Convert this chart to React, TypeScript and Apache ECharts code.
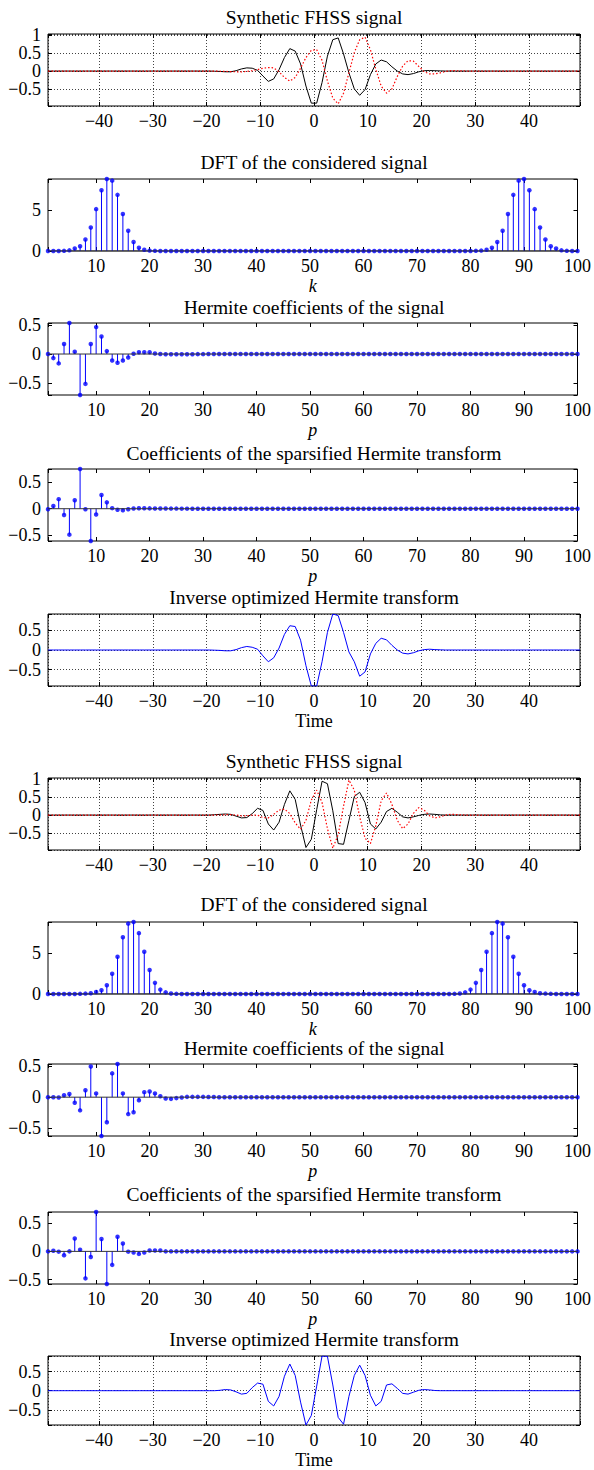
import React, { useEffect, useRef } from 'react';
import * as echarts from 'echarts';

// ---------- data ----------
const TIME: number[] = Array.from({ length: 100 }, (_, i) => i - 49.5);
const IDX: number[] = Array.from({ length: 100 }, (_, i) => i + 1);

const FIG1_REAL = [
  0, 0, 0, 0, 0, 0, 0, 0, 0, 0,
  0, 0, 0, 0, 0, 0, 0, 0, 0, 0,
  0, 0, 0, 0, 0, 0, 0, 0, 0, 0,
  0, -0.005, -0.01, -0.02, -0.02, 0.01, 0.06, 0.09, 0.08, 0.02,
  -0.14, -0.29, -0.22, 0.04, 0.38, 0.63, 0.56, 0.2, -0.42, -0.9,
  -0.9, -0.32, 0.42, 0.88, 0.93, 0.48, -0.05, -0.5, -0.68, -0.52,
  -0.1, 0.2, 0.31, 0.26, 0.12, 0, -0.08, -0.1, -0.07, -0.02,
  0.01, 0.015, 0.01, 0.005, 0, 0, 0, 0, 0, 0,
  0, 0, 0, 0, 0, 0, 0, 0, 0, 0,
  0, 0, 0, 0, 0, 0, 0, 0, 0, 0,
];
const FIG1_IMAG = [
  0, 0, 0, 0, 0, 0, 0, 0, 0, 0,
  0, 0, 0, 0, 0, 0, 0, 0, 0, 0,
  0, 0, 0, 0, 0, 0, 0, 0, 0, 0,
  0, 0, -0.005, -0.01, -0.015, -0.02, -0.02, -0.01, 0.01, 0.04,
  0.08, 0.1, 0.09, -0.02, -0.18, -0.28, -0.18, 0.08, 0.38, 0.58,
  0.6, 0.3, -0.28, -0.76, -0.92, -0.62, -0.05, 0.52, 0.88, 0.95,
  0.6, 0.05, -0.42, -0.62, -0.5, -0.15, 0.14, 0.29, 0.28, 0.13,
  -0.02, -0.08, -0.08, -0.05, -0.01, 0.01, 0.01, 0.005, 0, 0,
  0, 0, 0, 0, 0, 0, 0, 0, 0, 0,
  0, 0, 0, 0, 0, 0, 0, 0, 0, 0,
];
const FIG1_INV = [
  0, 0, 0, 0, 0, 0, 0, 0, 0, 0,
  0, 0, 0, 0, 0, 0, 0, 0, 0, 0,
  0, 0, 0, 0, 0, 0, 0, 0, 0, 0,
  0, -0.005, -0.01, -0.02, -0.02, 0.01, 0.06, 0.09, 0.07, 0.02,
  -0.15, -0.3, -0.2, 0.05, 0.4, 0.62, 0.6, 0.25, -0.4, -0.92,
  -0.92, -0.3, 0.45, 0.92, 0.88, 0.45, -0.05, -0.3, -0.67, -0.56,
  -0.1, 0.17, 0.3, 0.26, 0.12, 0, -0.08, -0.1, -0.07, -0.02,
  0.01, 0.02, 0.01, 0.005, 0, 0, 0, 0, 0, 0,
  0, 0, 0, 0, 0, 0, 0, 0, 0, 0,
  0, 0, 0, 0, 0, 0, 0, 0, 0, 0,
];
const FIG2_REAL = [
  0, 0, 0, 0, 0, 0, 0, 0, 0, 0,
  0, 0, 0, 0, 0, 0, 0, 0, 0, 0,
  0, 0, 0, 0, 0, 0, 0, 0, 0, 0,
  0, 0.01, 0.02, 0.03, 0.02, -0.03, -0.08, -0.07, 0.04, 0.19,
  0.13, -0.25, -0.42, -0.2, 0.3, 0.68, 0.44, -0.28, -0.91, -0.68,
  0.15, 0.95, 0.88, 0.12, -0.8, -0.82, -0.15, 0.52, 0.64, 0.35,
  -0.25, -0.39, -0.2, 0.1, 0.19, 0.08, -0.05, -0.08, -0.05, -0.01,
  0.02, 0.03, 0.02, 0.005, 0, 0, 0, 0, 0, 0,
  0, 0, 0, 0, 0, 0, 0, 0, 0, 0,
  0, 0, 0, 0, 0, 0, 0, 0, 0, 0,
];
const FIG2_IMAG = [
  0, 0, 0, 0, 0, 0, 0, 0, 0, 0,
  0, 0, 0, 0, 0, 0, 0, 0, 0, 0,
  0, 0, 0, 0, 0, 0, 0, 0, 0, 0,
  0, 0, 0.005, 0.01, 0.01, 0, -0.02, -0.02, 0, 0,
  -0.07, -0.08, 0.02, 0.14, 0.17, 0.04, -0.22, -0.4, -0.15, 0.42,
  0.7, 0.35, -0.38, -0.93, -0.55, 0.25, 0.98, 0.7, -0.05, -0.65,
  -0.8, -0.3, 0.4, 0.62, 0.3, -0.15, -0.38, -0.25, 0.05, 0.21,
  0.14, -0.02, -0.08, -0.05, 0, 0.02, 0.015, 0.005, 0, 0,
  0, 0, 0, 0, 0, 0, 0, 0, 0, 0,
  0, 0, 0, 0, 0, 0, 0, 0, 0, 0,
];
const FIG2_INV = [
  0, 0, 0, 0, 0, 0, 0, 0, 0, 0,
  0, 0, 0, 0, 0, 0, 0, 0, 0, 0,
  0, 0, 0, 0, 0, 0, 0, 0, 0, 0,
  0, 0, 0.01, 0.03, 0.02, -0.03, -0.09, -0.07, 0.08, 0.2,
  0.17, -0.28, -0.4, -0.15, 0.38, 0.7, 0.4, -0.3, -0.9, -0.65,
  0.12, 0.91, 0.9, 0.15, -0.7, -0.88, -0.15, 0.4, 0.67, 0.4,
  -0.12, -0.4, -0.28, 0.15, 0.18, 0.06, -0.07, -0.09, -0.04, 0.01,
  0.03, 0.02, 0.005, 0, 0, 0, 0, 0, 0, 0,
  0, 0, 0, 0, 0, 0, 0, 0, 0, 0,
  0, 0, 0, 0, 0, 0, 0, 0, 0, 0,
];

const DFT1 = [
  0, 0, 0, 0.02, 0.08, 0.3, 0.57, 1.4, 2.87, 5.1,
  7.4, 8.77, 8.57, 6.84, 4.5, 2.46, 1.1, 0.4, 0.15, 0.05,
  0.02, 0, 0, 0, 0, 0, 0, 0, 0, 0,
  0, 0, 0, 0, 0, 0, 0, 0, 0, 0,
  0, 0, 0, 0, 0, 0, 0, 0, 0, 0,
  0, 0, 0, 0, 0, 0, 0, 0, 0, 0,
  0, 0, 0, 0, 0, 0, 0, 0, 0, 0,
  0, 0, 0, 0, 0, 0, 0, 0, 0, 0,
  0.02, 0.05, 0.15, 0.4, 1.1, 2.46, 4.5, 6.84, 8.57, 8.77,
  7.4, 5.1, 2.87, 1.4, 0.57, 0.3, 0.08, 0.02, 0, 0,
];
const DFT2 = [
  0, 0, 0, 0, 0, 0, 0.02, 0.05, 0.1, 0.25,
  0.45, 1.07, 2.48, 4.55, 6.94, 8.6, 8.8, 7.44, 5.17, 2.93,
  1.36, 0.54, 0.2, 0.06, 0.02, 0, 0, 0, 0, 0,
  0, 0, 0, 0, 0, 0, 0, 0, 0, 0,
  0, 0, 0, 0, 0, 0, 0, 0, 0, 0,
  0, 0, 0, 0, 0, 0, 0, 0, 0, 0,
  0, 0, 0, 0, 0, 0, 0, 0, 0, 0,
  0, 0, 0, 0, 0, 0, 0.02, 0.06, 0.2, 0.54,
  1.36, 2.93, 5.17, 7.44, 8.8, 8.6, 6.94, 4.55, 2.48, 1.07,
  0.45, 0.25, 0.1, 0.05, 0.02, 0, 0, 0, 0, 0,
];
const HERM1 = [
  0, -0.07, -0.16, 0.17, 0.53, 0.04, -0.7, -0.51, 0.17, 0.46,
  0.3, 0.05, -0.11, -0.15, -0.11, -0.06, 0.005, 0.03, 0.03, 0.03,
  0.01, 0, -0.005, -0.005, -0.005, -0.005, -0.003, -0.003, -0.002, -0.002,
  0, 0, 0, 0, 0, 0, 0, 0, 0, 0,
  0, 0, 0, 0, 0, 0, 0, 0, 0, 0,
  0, 0, 0, 0, 0, 0, 0, 0, 0, 0,
  0, 0, 0, 0, 0, 0, 0, 0, 0, 0,
  0, 0, 0, 0, 0, 0, 0, 0, 0, 0,
  0, 0, 0, 0, 0, 0, 0, 0, 0, 0,
  0, 0, 0, 0, 0, 0, 0, 0, 0, 0,
];
const SPARSE1 = [
  -0.01, 0.05, 0.18, -0.12, -0.49, 0.16, 0.75, -0.01, -0.61, -0.11,
  0.26, 0.12, 0.01, -0.02, -0.03, -0.01, 0.005, 0.008, 0.008, 0.006,
  0.005, 0.004, 0.003, 0.002, 0.002, 0.001, 0.001, 0, 0, 0,
  0, 0, 0, 0, 0, 0, 0, 0, 0, 0,
  0, 0, 0, 0, 0, 0, 0, 0, 0, 0,
  0, 0, 0, 0, 0, 0, 0, 0, 0, 0,
  0, 0, 0, 0, 0, 0, 0, 0, 0, 0,
  0, 0, 0, 0, 0, 0, 0, 0, 0, 0,
  0, 0, 0, 0, 0, 0, 0, 0, 0, 0,
  0, 0, 0, 0, 0, 0, 0, 0, 0, 0,
];
const HERM2 = [
  0, 0, -0.005, 0.03, 0.05, -0.09, -0.21, 0.11, 0.49, 0.06,
  -0.62, -0.4, 0.38, 0.53, 0.06, -0.27, -0.24, -0.05, 0.08, 0.09,
  0.06, 0.015, -0.02, -0.027, -0.015, -0.005, 0.005, 0.005, 0.005, 0.005,
  0.003, 0.002, 0, 0, 0, 0, 0, 0, 0, 0,
  0, 0, 0, 0, 0, 0, 0, 0, 0, 0,
  0, 0, 0, 0, 0, 0, 0, 0, 0, 0,
  0, 0, 0, 0, 0, 0, 0, 0, 0, 0,
  0, 0, 0, 0, 0, 0, 0, 0, 0, 0,
  0, 0, 0, 0, 0, 0, 0, 0, 0, 0,
  0, 0, 0, 0, 0, 0, 0, 0, 0, 0,
];
const SPARSE2 = [
  0, 0.01, -0.005, -0.07, 0, 0.23, 0.03, -0.48, -0.1, 0.7,
  0.22, -0.58, -0.24, 0.26, 0.14, -0.005, -0.02, -0.045, -0.02, 0.015,
  0.015, 0.015, 0, 0, 0, 0, 0, 0, 0, 0,
  0, 0, 0, 0, 0, 0, 0, 0, 0, 0,
  0, 0, 0, 0, 0, 0, 0, 0, 0, 0,
  0, 0, 0, 0, 0, 0, 0, 0, 0, 0,
  0, 0, 0, 0, 0, 0, 0, 0, 0, 0,
  0, 0, 0, 0, 0, 0, 0, 0, 0, 0,
  0, 0, 0, 0, 0, 0, 0, 0, 0, 0,
  0, 0, 0, 0, 0, 0, 0, 0, 0, 0,
];

const TITLES = [
  'Synthetic FHSS signal',
  'DFT of the considered signal',
  'Hermite coefficients of the signal',
  'Coefficients of the sparsified Hermite transform',
  'Inverse optimized Hermite transform',
  'Synthetic FHSS signal',
  'DFT of the considered signal',
  'Hermite coefficients of the signal',
  'Coefficients of the sparsified Hermite transform',
  'Inverse optimized Hermite transform',
];
const X_NAMES = ['', 'k', 'p', 'p', 'Time', '', 'k', 'p', 'p', 'Time'];

// ---------- layout / style ----------
const FONT = '"Liberation Serif", "Times New Roman", Times, serif';
const FS = 18;
const TITLE_FS = 19.5;
const LEFT = 48;
const RIGHT = 14;
const H = 72;
const TOPS = [34, 179, 323, 469, 614, 778, 922, 1064, 1212, 1356];
const TITLE_Y = [17, 162, 307, 453, 597, 761, 904, 1048, 1194, 1339];

type Line = { data: number[]; color: string; type: any; width: number };
type Panel =
  | { kind: 'time'; lines: Line[]; ymin: number; ymax: number }
  | { kind: 'stem'; data: number[]; ystep: number };

const RED_DOT = [1.5, 2];

const PANELS: Panel[] = [
  { kind: 'time', lines: [{ data: FIG1_REAL, color: '#000000', type: 'solid', width: 1 }, { data: FIG1_IMAG, color: '#ff0000', type: RED_DOT, width: 1.2 }], ymin: -0.98, ymax: 1.04 },
  { kind: 'stem', data: DFT1, ystep: 5 },
  { kind: 'stem', data: HERM1, ystep: 0.5 },
  { kind: 'stem', data: SPARSE1, ystep: 0.5 },
  { kind: 'time', lines: [{ data: FIG1_INV, color: '#0000ff', type: 'solid', width: 1 }], ymin: Math.min(...FIG1_INV), ymax: Math.max(...FIG1_INV) },
  { kind: 'time', lines: [{ data: FIG2_REAL, color: '#000000', type: 'solid', width: 1 }, { data: FIG2_IMAG, color: '#ff0000', type: RED_DOT, width: 1.2 }], ymin: -0.98, ymax: 1.04 },
  { kind: 'stem', data: DFT2, ystep: 5 },
  { kind: 'stem', data: HERM2, ystep: 0.5 },
  { kind: 'stem', data: SPARSE2, ystep: 0.5 },
  { kind: 'time', lines: [{ data: FIG2_INV, color: '#0000ff', type: 'solid', width: 1 }], ymin: Math.min(...FIG2_INV), ymax: Math.max(...FIG2_INV) },
];

const tickFmt = (step: number) => (v: number) => {
  const r = v / step;
  if (Math.abs(r - Math.round(r)) > 1e-6) return '';
  const n = Math.round(r) * step;
  if (Math.abs(n) < 1e-9) return '0';
  const s = String(parseFloat(Math.abs(n).toFixed(3)));
  return n < 0 ? '\u2212' + s : s;
};

const textStyle = { color: '#000', fontFamily: FONT, fontSize: FS };

function buildOption() {
  const grid: any[] = [];
  const xAxis: any[] = [];
  const yAxis: any[] = [];
  const series: any[] = [];
  const graphic: any[] = [];

  PANELS.forEach((p, i) => {
    grid.push({
      left: LEFT, right: RIGHT, top: TOPS[i], height: H,
      show: true, borderColor: '#000', borderWidth: 1, backgroundColor: 'transparent',
    });
    const isTime = p.kind === 'time';
    const xmin = isTime ? -49.5 : 1;
    const xmax = isTime ? 49.5 : 100;
    const ymin = isTime ? (p as any).ymin : Math.min(...(p as any).data);
    const ymax = isTime ? (p as any).ymax : Math.max(...(p as any).data);
    const ystep = isTime ? 0.5 : (p as any).ystep;
    const gridLine = { show: isTime, lineStyle: { color: '#111', width: 0.8, type: [1, 2] } };
    const tick = { show: true, inside: true, length: 4, lineStyle: { color: '#000', width: 1 } };
    const noLine = { show: false, onZero: false };
    const name = X_NAMES[i];

    xAxis.push({
      type: 'value', gridIndex: i, min: xmin, max: xmax, position: 'bottom',
      minInterval: 10, maxInterval: 10,
      axisLine: noLine, axisTick: tick,
      axisLabel: { ...textStyle, margin: 6, formatter: tickFmt(10) },
      splitLine: gridLine,
      name, nameLocation: 'middle', nameGap: 26,
      nameTextStyle: { ...textStyle, fontStyle: name === 'Time' ? 'normal' : 'italic' },
    });
    xAxis.push({
      type: 'value', gridIndex: i, min: xmin, max: xmax, position: 'top',
      minInterval: 10, maxInterval: 10,
      axisLine: noLine, axisTick: tick, axisLabel: { show: false }, splitLine: { show: false },
    });
    yAxis.push({
      type: 'value', gridIndex: i, min: ymin, max: ymax, position: 'left',
      minInterval: ystep, maxInterval: ystep,
      axisLine: noLine, axisTick: tick,
      axisLabel: { ...textStyle, margin: 7, formatter: tickFmt(ystep) },
      splitLine: gridLine,
    });
    yAxis.push({
      type: 'value', gridIndex: i, min: ymin, max: ymax, position: 'right',
      minInterval: ystep, maxInterval: ystep,
      axisLine: noLine, axisTick: tick, axisLabel: { show: false }, splitLine: { show: false },
    });

    const xi = 2 * i;
    const yi = 2 * i;
    if (p.kind === 'time') {
      p.lines.forEach((ln) => {
        series.push({
          type: 'line', xAxisIndex: xi, yAxisIndex: yi, silent: true,
          data: TIME.map((t, j) => [t, ln.data[j]]),
          showSymbol: false, symbol: 'none',
          lineStyle: { color: ln.color, width: ln.width, type: ln.type },
        });
      });
    } else {
      const pts = IDX.map((k, j) => [k, p.data[j]]);
      series.push({
        type: 'line', xAxisIndex: xi, yAxisIndex: yi, silent: true,
        data: [[xmin, 0], [xmax, 0]], showSymbol: false, symbol: 'none',
        lineStyle: { color: '#333', width: 1 },
      });
      series.push({
        type: 'custom', xAxisIndex: xi, yAxisIndex: yi, silent: true,
        data: pts, encode: { x: 0, y: 1 },
        renderItem: (_params: any, api: any) => {
          const x = api.value(0);
          const y = api.value(1);
          const a = api.coord([x, 0]);
          const b = api.coord([x, y]);
          return {
            type: 'line',
            shape: { x1: a[0], y1: a[1], x2: b[0], y2: b[1] },
            style: { stroke: '#0000ff', lineWidth: 1 },
          };
        },
      });
      series.push({
        type: 'scatter', xAxisIndex: xi, yAxisIndex: yi, silent: true,
        data: pts, symbol: 'circle', symbolSize: 4.5,
        itemStyle: { color: '#0000ff' },
      });
    }

    graphic.push({
      type: 'text', x: LEFT + (594 - LEFT - RIGHT) / 2, y: TITLE_Y[i],
      style: { text: TITLES[i], fill: '#000', fontFamily: FONT, fontSize: TITLE_FS, align: 'center', verticalAlign: 'middle' },
    });
  });

  return {
    animation: false,
    backgroundColor: '#ffffff',
    grid, xAxis, yAxis, series, graphic,
  };
}

export default function App() {
  const ref = useRef<HTMLDivElement>(null);
  useEffect(() => {
    if (!ref.current) return;
    const chart = echarts.init(ref.current, null, { renderer: 'svg' });
    chart.setOption(buildOption());
    return () => chart.dispose();
  }, []);
  return (
    <div
      ref={ref}
      style={{ position: 'absolute', left: 0, top: 0, width: 594, height: 1470, background: '#fff' }}
    />
  );
}
